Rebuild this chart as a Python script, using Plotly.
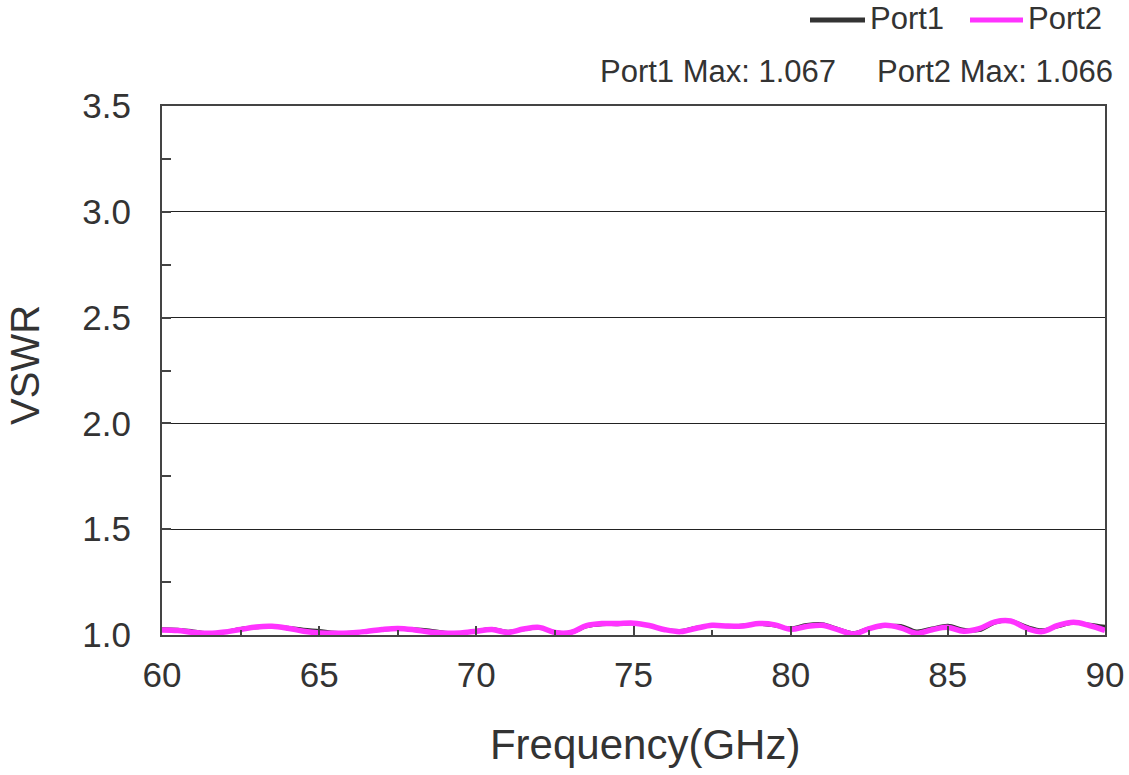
import plotly.graph_objects as go

freq = [60.0 + 0.5 * i for i in range(61)]

port1 = [1.028, 1.026, 1.018, 1.010, 1.016, 1.030, 1.036, 1.040, 1.036, 1.026,
         1.020, 1.012, 1.012, 1.018, 1.024, 1.030, 1.028, 1.022, 1.012, 1.010,
         1.020, 1.030, 1.016, 1.026, 1.034, 1.014, 1.010, 1.040, 1.050, 1.050,
         1.054, 1.044, 1.026, 1.020, 1.036, 1.044, 1.040, 1.046, 1.052, 1.044,
         1.032, 1.048, 1.052, 1.030, 1.010, 1.032, 1.042, 1.044, 1.018, 1.032,
         1.045, 1.026, 1.022, 1.058, 1.067, 1.040, 1.024, 1.040, 1.058, 1.050,
         1.040]

port2 = [1.024, 1.021, 1.012, 1.008, 1.014, 1.026, 1.038, 1.041, 1.032, 1.018,
         1.010, 1.008, 1.010, 1.017, 1.026, 1.031, 1.025, 1.014, 1.008, 1.010,
         1.018, 1.026, 1.012, 1.028, 1.036, 1.012, 1.012, 1.044, 1.054, 1.054,
         1.056, 1.045, 1.025, 1.016, 1.032, 1.046, 1.042, 1.043, 1.054, 1.048,
         1.027, 1.040, 1.046, 1.025, 1.005, 1.030, 1.046, 1.034, 1.008, 1.025,
         1.036, 1.018, 1.030, 1.062, 1.066, 1.032, 1.016, 1.045, 1.060, 1.045,
         1.022]

series_names = ["Port1", "Port2"]
series_colors = ["#333333", "#ff33ff"]
max_labels = ["Port1 Max: 1.067", "Port2 Max: 1.066"]
x_ticks = [60, 65, 70, 75, 80, 85, 90]
y_ticks = [1.0, 1.5, 2.0, 2.5, 3.0, 3.5]

FONT = "Arial, Liberation Sans, sans-serif"
TXT = "#333333"

W, H = 1129, 775
ML, MT = 162, 106
MR = W - 1105
MB = H - 635
PW, PH = W - ML - MR, H - MT - MB


def px(xpage):
    return (xpage - ML) / PW


def py(ypage):
    return (H - MB - ypage) / PH


fig = go.Figure()
fig.add_trace(go.Scatter(x=freq, y=port1, mode="lines", name=series_names[0],
                         line=dict(color=series_colors[0], width=3.5, shape="spline")))
fig.add_trace(go.Scatter(x=freq, y=port2, mode="lines", name=series_names[1],
                         line=dict(color=series_colors[1], width=5.5, shape="spline")))

# custom legend (long line samples)
legend_items = [(810, 865, 868), (970, 1023, 1026)]
shapes = []
annotations = []
for (x0, x1, tx), name, col in zip(legend_items, series_names, series_colors):
    shapes.append(dict(type="line", xref="paper", yref="paper",
                       x0=px(x0), x1=px(x1), y0=py(20), y1=py(20),
                       line=dict(color=col, width=5)))
    annotations.append(dict(text=name, x=px(tx), y=py(19), xref="paper", yref="paper",
                            xanchor="left", yanchor="middle", showarrow=False,
                            font=dict(size=31, color=TXT, family=FONT)))

for label, xr in zip(max_labels, [838, 1115]):
    annotations.append(dict(text=label, x=px(xr), y=py(71), xref="paper", yref="paper",
                            xanchor="right", yanchor="middle", showarrow=False,
                            font=dict(size=31, color=TXT, family=FONT)))

fig.update_layout(
    width=W, height=H,
    margin=dict(l=ML, r=MR, t=MT, b=MB, autoexpand=False),
    paper_bgcolor="white", plot_bgcolor="white",
    font=dict(family=FONT, color=TXT),
    showlegend=False,
    shapes=shapes,
    annotations=annotations,
)

fig.update_xaxes(
    range=[60, 90], tickvals=x_ticks, ticktext=[str(v) for v in x_ticks],
    showgrid=False, zeroline=False, automargin=False,
    showline=True, linecolor="#444444", linewidth=2, mirror=True,
    ticks="inside", ticklen=9, tickwidth=1.5, tickcolor="#444444",
    minor=dict(ticks="inside", ticklen=5, tickwidth=1.5, tickcolor="#444444", dtick=2.5, showgrid=False),
    tickfont=dict(size=35, color=TXT), ticklabelstandoff=8,
    title=dict(text="&nbsp;&nbsp;Frequency(GHz)", font=dict(size=42, color=TXT), standoff=37),
)
fig.update_yaxes(
    range=[1.0, 3.5], tickvals=y_ticks, ticktext=[f"{v:.1f}" for v in y_ticks],
    showgrid=True, gridcolor="#222222", gridwidth=1, zeroline=False, automargin=False,
    showline=True, linecolor="#444444", linewidth=2, mirror=True,
    ticks="inside", ticklen=9, tickwidth=1.5, tickcolor="#444444",
    minor=dict(ticks="inside", ticklen=9, tickwidth=1.5, tickcolor="#444444", dtick=0.25, tick0=1.0, showgrid=False),
    tickfont=dict(size=35, color=TXT), ticklabelstandoff=22,
    title=dict(text="&nbsp;VSWR", font=dict(size=40, color=TXT), standoff=30),
)

fig.write_html("out.html", config={"displayModeBar": False},
               post_script="document.body.style.margin='0';document.body.style.overflow='hidden';")
